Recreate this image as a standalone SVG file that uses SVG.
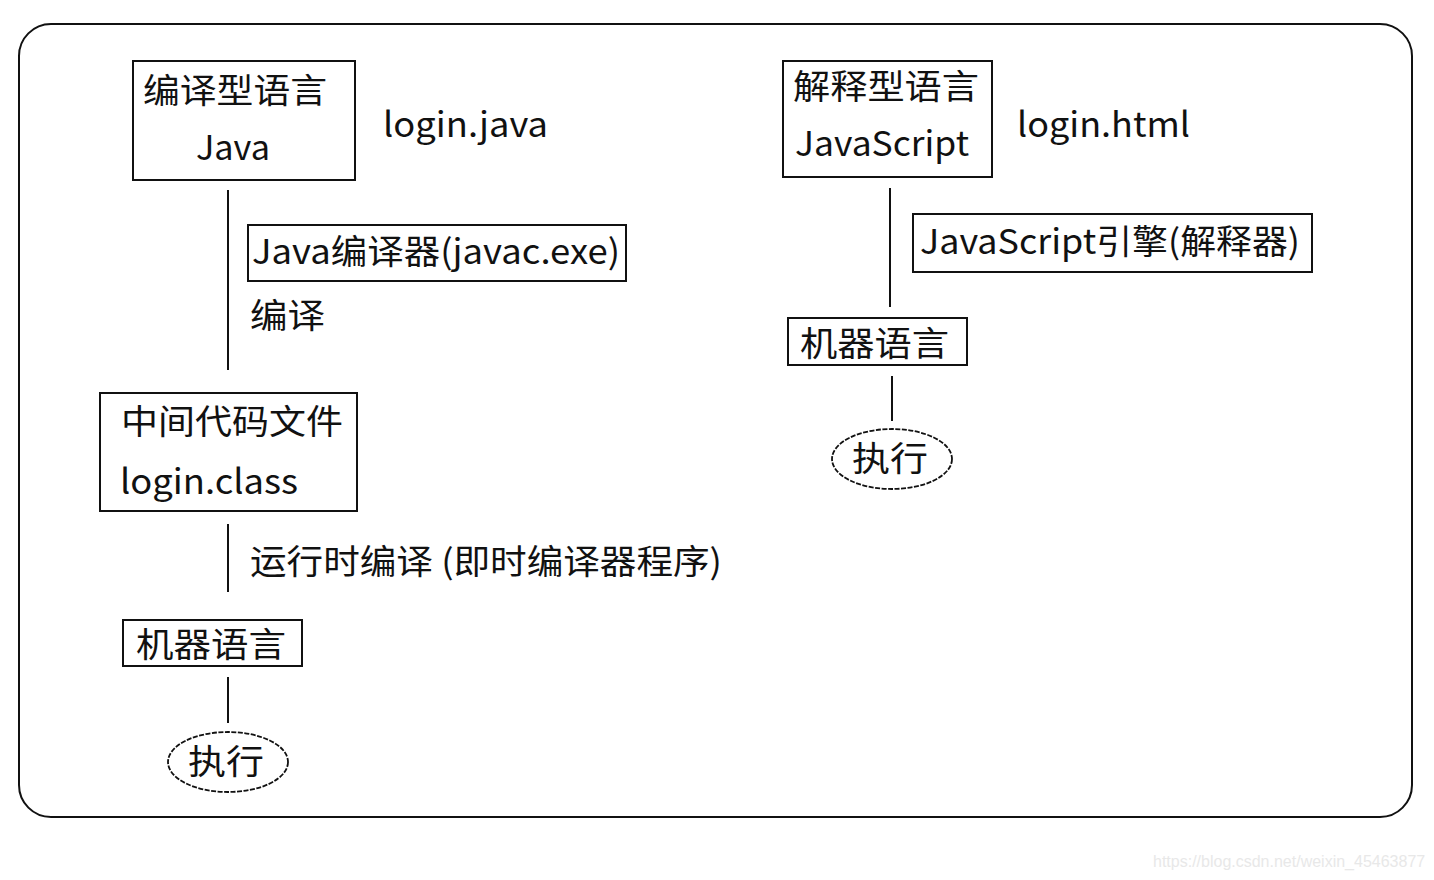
<svg xmlns="http://www.w3.org/2000/svg" width="1434" height="880" viewBox="0 0 1434 880">
<style>
.b{fill:#fff;stroke:#111;stroke-width:2}
.t{font-family:"Noto Sans CJK SC","Noto Sans",sans-serif;font-size:34px;fill:#111}
.c{stroke:#111;stroke-width:2;fill:none}
.e{fill:#fff;stroke:#111;stroke-width:1.8;stroke-dasharray:5 1.5}
.w{font-family:"Liberation Sans",sans-serif;font-size:16px;fill:#e8e8e8}
</style>
<rect width="1434" height="880" fill="#fff"/>
<rect x="19" y="24" width="1393" height="793" rx="32" ry="32" fill="none" stroke="#111" stroke-width="2"/>
<g id="connectors">
<line class="c" x1="228" y1="190" x2="228" y2="370"/>
<line class="c" x1="228" y1="524" x2="228" y2="592"/>
<line class="c" x1="228" y1="677" x2="228" y2="723"/>
<line class="c" x1="890" y1="188" x2="890" y2="307"/>
<line class="c" x1="892" y1="376" x2="892" y2="421"/>
</g>
<g id="compiled-lang">
<rect class="b" x="133" y="61" width="222" height="119"/>
<text class="t" x="143" y="103" textLength="184" lengthAdjust="spacingAndGlyphs">编译型语言</text>
<text class="t" x="196" y="160" textLength="74" lengthAdjust="spacingAndGlyphs">Java</text>
</g>
<g id="login-java"><text class="t" x="383" y="137" textLength="165" lengthAdjust="spacingAndGlyphs">login.java</text></g>
<g id="javac">
<rect class="b" x="248" y="225" width="378" height="56"/>
<text class="t" x="252" y="264" textLength="368" lengthAdjust="spacingAndGlyphs">Java编译器(javac.exe)</text>
</g>
<g id="compile-label"><text class="t" x="250" y="328" textLength="75" lengthAdjust="spacingAndGlyphs">编译</text></g>
<g id="class-file">
<rect class="b" x="100" y="393" width="257" height="118"/>
<text class="t" x="121" y="434" textLength="222" lengthAdjust="spacingAndGlyphs">中间代码文件</text>
<text class="t" x="120" y="494" textLength="178" lengthAdjust="spacingAndGlyphs">login.class</text>
</g>
<g id="jit-label"><text class="t" x="250" y="574" textLength="472" lengthAdjust="spacingAndGlyphs">运行时编译 (即时编译器程序)</text></g>
<g id="machine-left">
<rect class="b" x="123" y="620" width="179" height="46"/>
<text class="t" x="136" y="657" textLength="150" lengthAdjust="spacingAndGlyphs">机器语言</text>
</g>
<g id="exec-left">
<ellipse class="e" cx="228" cy="762" rx="60" ry="30"/>
<text class="t" x="188" y="774" textLength="76" lengthAdjust="spacingAndGlyphs">执行</text>
</g>
<g id="interp-lang">
<rect class="b" x="783" y="61" width="209" height="116"/>
<text class="t" x="793" y="99" textLength="186" lengthAdjust="spacingAndGlyphs">解释型语言</text>
<text class="t" x="795" y="156" textLength="174" lengthAdjust="spacingAndGlyphs">JavaScript</text>
</g>
<g id="login-html"><text class="t" x="1017" y="137" textLength="173" lengthAdjust="spacingAndGlyphs">login.html</text></g>
<g id="js-engine">
<rect class="b" x="913" y="214" width="399" height="58"/>
<text class="t" x="920" y="254" textLength="380" lengthAdjust="spacingAndGlyphs">JavaScript引擎(解释器)</text>
</g>
<g id="machine-right">
<rect class="b" x="788" y="318" width="179" height="47"/>
<text class="t" x="800" y="356" textLength="149" lengthAdjust="spacingAndGlyphs">机器语言</text>
</g>
<g id="exec-right">
<ellipse class="e" cx="892" cy="459" rx="60" ry="30"/>
<text class="t" x="852" y="471" textLength="76" lengthAdjust="spacingAndGlyphs">执行</text>
</g>
<text class="w" x="1153" y="867">https://blog.csdn.net/weixin_45463877</text>
</svg>
